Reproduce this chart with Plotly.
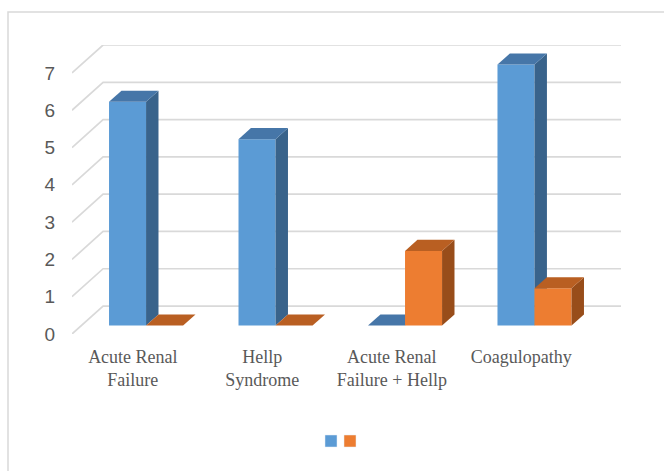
import plotly.graph_objects as go

categories = ["Acute Renal<br>Failure", "Hellp<br>Syndrome", "Acute Renal<br>Failure + Hellp", "Coagulopathy"]
series_a = [6, 5, 0, 7]   # blue
series_b = [0, 0, 2, 1]   # orange
y_ticks = [0, 1, 2, 3, 4, 5, 6, 7]

colors = {
    "a": {"front": "#5B9BD5", "top": "#4676A8", "side": "#39638B"},
    "b": {"front": "#ED7D31", "top": "#B95F22", "side": "#984D1A"},
}

# 3D projection parameters (in data units)
DX, DY = 0.24, 0.75        # full floor depth offset
A, B = 0.30, 0.70          # bar front / back depth fractions
W = 0.286                  # bar width in category units

fig = go.Figure()

GRID = "#D9D9D9"
# back wall gridlines + left wall diagonals
for v in y_ticks:
    fig.add_trace(go.Scatter(
        x=[-0.5, -0.5 + DX, len(categories) - 0.5 + DX],
        y=[v, v + DY, v + DY],
        mode="lines", line=dict(color=GRID, width=1.7),
        hoverinfo="skip", showlegend=False, cliponaxis=False))


def poly(xs, ys, color):
    fig.add_trace(go.Scatter(
        x=xs + [xs[0]], y=ys + [ys[0]], mode="lines", fill="toself",
        fillcolor=color, line=dict(width=0, color=color),
        hoverinfo="skip", showlegend=False, cliponaxis=False))


fx, fy = A * DX, A * DY
ddx, ddy = (B - A) * DX, (B - A) * DY
for i in range(len(categories)):
    for key, vals, off in (("a", series_a, -W), ("b", series_b, 0.0)):
        h = vals[i]
        c = colors[key]
        x0 = i + fx + off
        x1 = x0 + W
        y0 = fy
        y1 = fy + h
        if h > 0:
            poly([x0, x1, x1, x0], [y0, y0, y1, y1], c["front"])
            poly([x1, x1 + ddx, x1 + ddx, x1], [y0, y0 + ddy, y1 + ddy, y1], c["side"])
        poly([x0, x1, x1 + ddx, x0 + ddx], [y1, y1, y1 + ddy, y1 + ddy], c["top"])

# legend entries (two separate legends for tight spacing)
fig.add_trace(go.Bar(x=[None], y=[None], name=" ", marker_color=colors["a"]["front"],
                     showlegend=True, legend="legend"))
fig.add_trace(go.Bar(x=[None], y=[None], name=" ", marker_color=colors["b"]["front"],
                     showlegend=True, legend="legend2"))

L, R, T, Bm = 72, 43, 45, 137
PW, PH = 664 - L - R, 471 - T - Bm


def px_x(p):
    return (p - L) / PW


def px_y(p):
    return (471 - Bm - p) / PH


LABEL_SHIFT = -0.03
fig.update_layout(
    width=664, height=471,
    margin=dict(l=L, r=R, t=T, b=Bm),
    paper_bgcolor="white", plot_bgcolor="rgba(0,0,0,0)",
    showlegend=True,
    legend=dict(x=px_x(311), y=px_y(441), xanchor="left", yanchor="middle",
                bgcolor="rgba(0,0,0,0)", font=dict(size=10), itemwidth=30),
    legend2=dict(x=px_x(330), y=px_y(441), xanchor="left", yanchor="middle",
                 bgcolor="rgba(0,0,0,0)", font=dict(size=10), itemwidth=30),
    xaxis=dict(range=[-0.5, len(categories) - 0.5 + DX], showgrid=False, zeroline=False,
               showline=False, tickmode="array",
               tickvals=[i + LABEL_SHIFT for i in range(len(categories))],
               ticktext=categories, ticks="", ticklabelstandoff=10,
               tickfont=dict(family="Liberation Serif", size=18, color="#595959"),
               fixedrange=True),
    yaxis=dict(range=[0, max(y_ticks) + DY], showgrid=False, zeroline=False,
               showline=False, tickmode="array", tickvals=y_ticks,
               ticktext=[str(t) for t in y_ticks], ticks="", ticklabelstandoff=16,
               tickfont=dict(family="Liberation Sans", size=19, color="#595959"),
               fixedrange=True),
    shapes=[dict(type="rect", xref="paper", yref="paper",
                 x0=px_x(8), x1=px_x(700), y0=px_y(500), y1=px_y(12),
                 line=dict(color="#D9D9D9", width=1.5), layer="below")],
)

fig.write_html("out.html")
